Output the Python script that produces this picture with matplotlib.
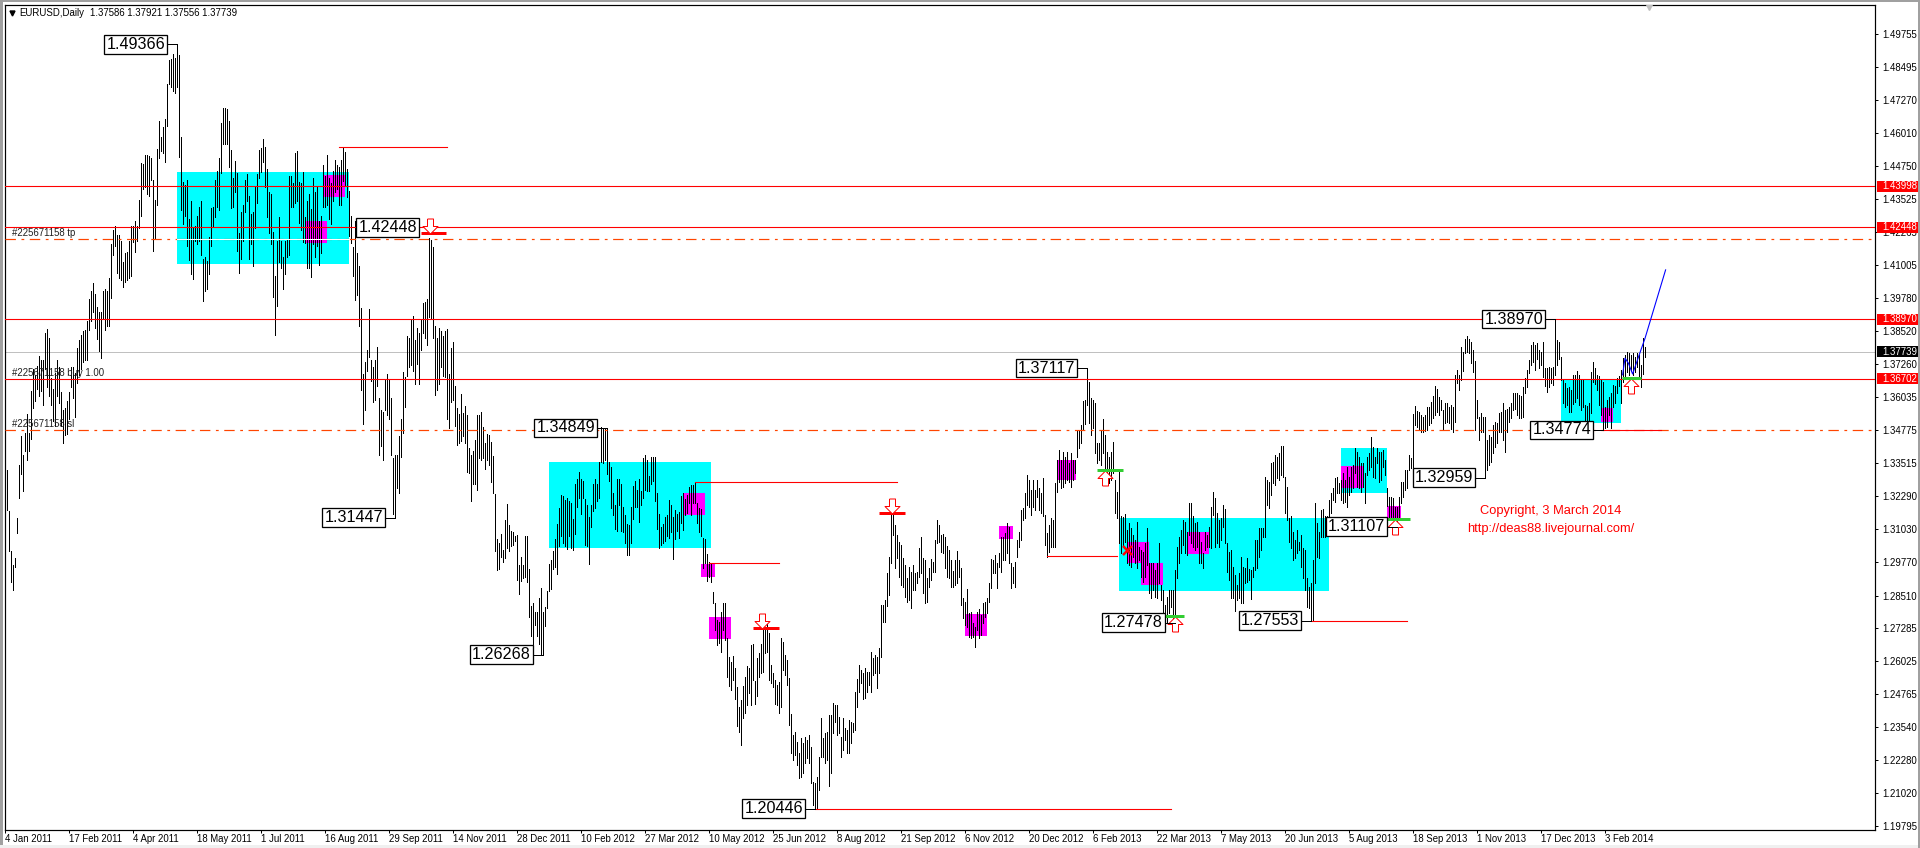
import numpy as np
import matplotlib
matplotlib.use("Agg")
import matplotlib.pyplot as plt
from matplotlib.patches import Rectangle

plt.rcParams['font.family'] = ['Liberation Sans', 'DejaVu Sans']
plt.rcParams['lines.scale_dashes'] = False

# --- DAILY BARS (in pips, one line per date label) ---
HIGHS = [
    13431,13327,13171,13018,12965,12992,13144,13343,13454,13383,13464,13539,13464,13624,13708,13687,13721,13759,13741,13741,13843,13859,13826,13674,13633,13694,13741,13714,13620,13552,13559,13586,
    13620,13714,13714,13694,13789,13818,13836,13853,13856,13890,13971,14005,14034,13991,13944,13924,13924,14005,14012,14005,14052,14180,14234,14248,14214,14214,14194,14113,14147,14151,14194,14248,
    14248,14268,14248,14349,14488,14484,14518,14518,14515,14505,14424,14349,14542,14646,14586,14624,14653,14788,14876,14880,14899,14883,14937,14896,14586,14417,14403,14424,14275,14343,14241,14248,
    14288,14322,14343,14126,14133,14116,14207,14318,14322,14424,14457,14507,14640,14694,14696,14691,14646,14538,14430,14494,14451,14221,14302,14329,14424,14444,14363,14295,14302,14397,14444,14538,
    14545,14579,14548,14464,14376,14370,14228,14059,14194,14282,14194,14133,14194,14201,14437,14437,14410,14525,14532,14417,14410,14453,14282,14343,14370,14315,14430,14376,14397,14268,14288,14478,
    14437,14518,14430,14410,14457,14498,14480,14471,14497,14546,14529,14464,14380,14286,14171,14269,14148,14099,13937,13689,13735,13780,13936,13741,13715,13741,13793,13598,13552,13546,13669,13689,
    13669,13598,13370,13383,13383,13454,13520,13695,13676,13832,13826,13897,13910,13819,13865,13845,13897,13956,13963,13973,14204,14197,14168,13871,13826,13865,13852,13832,13852,13861,13689,13787,
    13809,13643,13559,13539,13613,13543,13569,13533,13409,13383,13396,13441,13533,13533,13546,13487,13428,13461,13457,13431,13379,13235,13064,13051,13083,13024,13135,13196,13118,13096,13090,13077,
    13081,12966,12998,12966,13077,13077,12953,12813,12822,12790,12790,12842,12878,12790,12809,12868,12970,12985,13018,13064,13122,13181,13233,13226,13213,13220,13207,13200,13142,13272,13292,13318,
    13292,13285,13217,13194,13148,13194,13272,13292,13272,13357,13487,13480,13480,13483,13357,13337,13239,13194,13292,13292,13272,13187,13155,13122,13116,13187,13265,13285,13252,13292,13246,13370,
    13383,13363,13304,13376,13376,13376,13239,13161,13109,13122,13148,13155,13213,13194,13148,13174,13161,13168,13227,13238,13215,13231,13263,13269,13269,13282,13200,13181,13177,13067,13064,13008,
    12979,12973,12866,12821,12758,12752,12790,12821,12821,12689,12617,12601,12622,12576,12506,12431,12456,12509,12541,12584,12576,12664,12668,12529,12613,12632,12668,12733,12733,12743,12708,12588,
    12557,12531,12512,12525,12689,12676,12626,12607,12538,12403,12323,12336,12298,12254,12311,12292,12317,12305,12323,12279,12147,12141,12166,12241,12386,12311,12330,12336,12399,12399,12443,12437,
    12437,12393,12317,12386,12349,12342,12380,12374,12370,12487,12534,12588,12569,12557,12576,12563,12563,12639,12613,12626,12620,12651,12815,12815,12834,12935,12998,13156,13156,13118,13080,13055,
    13042,12992,12967,12916,12960,12941,12967,12935,12941,13030,13074,12992,12985,12916,12954,12988,12979,13061,13137,13118,13080,13084,13074,13038,13023,12985,12945,12985,13021,12985,12954,12840,
    12828,12876,12784,12790,12746,12733,12790,12799,12777,12821,12828,12840,12897,12988,12985,13004,12973,13011,13074,13074,13086,13124,13112,12973,12960,12979,13061,13092,13175,13181,13238,13307,
    13288,13250,13288,13250,13288,13257,13238,13294,13156,13089,13118,13143,13137,13276,13364,13402,13364,13395,13376,13395,13351,13389,13364,13364,13477,13477,13496,13588,13591,13711,13660,13597,
    13591,13578,13427,13427,13477,13519,13458,13395,13376,13395,13433,13288,13244,13326,13150,13147,13160,13099,13124,13105,13080,13061,13131,13036,13023,13017,13048,13105,12973,12973,12973,12948,
    12973,13048,12891,12872,12815,12847,12872,12872,12872,12948,13036,13074,13099,13137,13131,13093,13200,13200,13150,13124,13131,13093,13055,13011,13093,13080,13112,13187,13244,13219,13162,13137,
    13143,13194,13177,13048,13017,13023,12960,12929,12891,12935,12996,12960,12954,12992,12950,12948,12960,13061,13061,13105,13105,13105,13301,13288,13282,13351,13358,13383,13376,13392,13417,13417,
    13301,13263,13143,13152,13093,13061,13099,13055,13080,13030,13023,12916,12885,12897,12986,13200,13124,13093,13175,13177,13150,13150,13213,13238,13257,13294,13298,13276,13288,13313,13288,13338,
    13301,13338,13345,13408,13395,13376,13351,13351,13313,13376,13389,13452,13414,13376,13408,13395,13395,13402,13364,13257,13225,13225,13219,13187,13187,13225,13282,13282,13326,13326,13383,13370,
    13538,13568,13550,13547,13534,13528,13534,13563,13565,13584,13606,13644,13631,13601,13591,13553,13578,13578,13565,13572,13565,13685,13704,13685,13790,13774,13820,13833,13820,13811,13780,13739,
    13591,13528,13543,13528,13528,13439,13458,13452,13496,13509,13502,13540,13547,13578,13553,13555,13563,13578,13616,13619,13616,13610,13606,13641,13673,13704,13742,13799,13811,13799,13805,13780,
    13774,13811,13710,13710,13717,13710,13717,13893,13818,13811,13755,13666,13654,13635,13641,13628,13685,13685,13702,13685,13666,13666,13572,13568,13578,13698,13736,13710,13685,13682,13666,13660,
    13565,13591,13603,13616,13647,13644,13673,13682,13704,13748,13761,13774,13770,13761,13767,13755,13767,13761,13723,13824,13792,
]
LOWS = [
    13290,13175,13018,12904,12873,12958,13086,13221,13312,13248,13397,13363,13397,13444,13559,13586,13633,13606,13626,13572,13708,13640,13606,13572,13512,13491,13606,13579,13491,13427,13458,13462,
    13518,13640,13599,13525,13654,13687,13708,13735,13741,13741,13856,13890,13924,13863,13822,13775,13751,13897,13856,13870,13870,13978,14140,14174,14072,14052,14045,14018,14039,14045,14052,14059,
    14187,14151,14194,14241,14288,14390,14397,14370,14363,14424,14156,14201,14329,14505,14532,14525,14491,14629,14788,14775,14761,14751,14775,14511,14309,14255,14288,14174,14120,14066,14048,14194,
    14180,14194,14140,13967,14002,14012,14066,14174,14248,14282,14322,14309,14451,14559,14559,14561,14471,14318,14322,14376,14153,14070,14126,14194,14302,14343,14126,14180,14099,14241,14336,14430,
    14453,14491,14397,14282,14221,14180,13980,13836,13948,14113,14089,14012,14066,14133,14140,14322,14322,14336,14343,14261,14234,14187,14183,14089,14089,14056,14180,14133,14174,14103,14147,14322,
    14322,14329,14275,14255,14343,14376,14390,14329,14327,14419,14399,14360,14210,14184,14060,13969,13989,13871,13630,13500,13552,13702,13754,13663,13585,13591,13643,13383,13415,13363,13552,13533,
    13520,13383,13161,13144,13259,13239,13376,13467,13565,13682,13715,13722,13702,13650,13728,13650,13780,13845,13826,13800,13904,13897,13826,13611,13630,13650,13715,13682,13676,13520,13483,13585,
    13589,13493,13422,13428,13435,13454,13428,13318,13314,13209,13272,13272,13252,13370,13363,13370,13331,13363,13344,13279,13239,13018,12946,12953,12996,12979,12992,13031,13018,13037,13044,13057,
    12910,12855,12907,12918,12920,12901,12770,12699,12666,12738,12699,12666,12627,12627,12735,12803,12868,12875,12953,12959,12931,13037,13077,13050,13037,13027,13077,13031,13024,13083,13187,13220,
    13161,13220,13044,13037,12972,13109,13170,13181,13207,13220,13357,13353,13363,13311,13285,13183,13155,13102,13096,13194,13096,13090,13050,13005,13005,13050,13142,13187,13187,13131,13194,13220,
    13252,13246,13246,13272,13285,13209,13102,13031,13044,13050,13057,13077,13070,13090,12988,13063,13096,13070,13124,13099,13155,13162,13200,13156,13200,13200,13124,13093,13076,12954,12973,12907,
    12922,12903,12821,12721,12664,12670,12639,12721,12683,12544,12509,12494,12531,12458,12357,12336,12286,12386,12405,12437,12481,12437,12531,12441,12471,12544,12557,12563,12632,12639,12531,12519,
    12506,12441,12437,12405,12431,12569,12550,12512,12361,12254,12229,12248,12210,12159,12163,12178,12216,12235,12216,12141,12059,12046,12046,12115,12241,12241,12216,12229,12130,12178,12330,12374,
    12323,12330,12239,12267,12304,12254,12256,12292,12336,12342,12431,12487,12519,12458,12462,12487,12512,12487,12550,12557,12500,12557,12620,12752,12752,12811,12853,12973,13080,12954,12992,12920,
    12891,12885,12847,12828,12834,12803,12872,12872,12897,12922,12935,12859,12824,12828,12885,12910,12941,12941,13048,13055,13017,13011,12954,12922,12916,12885,12885,12891,12897,12922,12815,12765,
    12739,12733,12695,12689,12695,12657,12721,12689,12702,12746,12771,12784,12828,12878,12935,12937,12878,12960,12941,12985,12985,13013,12973,12878,12897,12885,12995,13036,13061,13137,13143,13194,
    13187,13156,13187,13175,13225,13175,13162,13150,13042,12998,13017,13036,13036,13036,13244,13282,13257,13263,13276,13288,13282,13263,13288,13313,13376,13408,13427,13477,13500,13572,13503,13458,
    13484,13389,13351,13364,13345,13389,13313,13282,13276,13288,13313,13162,13143,13048,13011,13042,13055,12973,12967,12960,12998,12973,12954,12986,12922,12904,12922,12967,12859,12841,12872,12847,
    12841,12897,12834,12777,12746,12746,12784,12809,12765,12748,12916,12973,13011,13042,13011,13004,13080,13048,13036,13023,13036,12973,12973,12954,13023,13036,13036,13030,13156,13036,13048,13036,
    13061,13112,13048,12941,12910,12841,12841,12794,12834,12841,12822,12822,12897,12904,12910,12837,12922,12948,12954,12998,13023,13074,13074,13194,13181,13231,13276,13269,13294,13288,13307,13301,
    13162,13137,13055,13030,12986,12992,13011,13023,12960,12916,12872,12809,12803,12755,12759,12897,12998,12992,13074,13074,13074,13112,13150,13162,13213,13206,13238,13238,13212,13200,13206,13187,
    13231,13244,13257,13313,13263,13257,13244,13263,13202,13307,13326,13338,13301,13294,13351,13282,13288,13338,13307,13190,13149,13137,13137,13137,13111,13143,13200,13225,13250,13257,13326,13332,
    13338,13496,13487,13477,13471,13471,13475,13477,13496,13502,13521,13534,13547,13534,13553,13480,13502,13509,13502,13480,13471,13509,13654,13630,13666,13700,13767,13774,13767,13729,13698,13477,
    13521,13439,13471,13471,13296,13326,13345,13357,13389,13414,13427,13471,13471,13439,13395,13471,13509,13521,13553,13555,13534,13521,13521,13528,13616,13639,13692,13723,13736,13704,13745,13711,
    13723,13679,13644,13622,13641,13654,13647,13685,13723,13745,13666,13578,13565,13572,13547,13547,13576,13584,13597,13572,13553,13565,13505,13484,13509,13540,13660,13651,13628,13572,13534,13477,
    13484,13490,13534,13484,13565,13581,13619,13644,13578,13660,13682,13698,13685,13702,13685,13698,13717,13676,13639,13689,13755,
]

# --- AXIS LABELS ---
X_TICK_STEP = 32
X_LABELS = ['4 Jan 2011', '17 Feb 2011', '4 Apr 2011', '18 May 2011', '1 Jul 2011', '16 Aug 2011',
            '29 Sep 2011', '14 Nov 2011', '28 Dec 2011', '10 Feb 2012', '27 Mar 2012', '10 May 2012',
            '25 Jun 2012', '8 Aug 2012', '21 Sep 2012', '6 Nov 2012', '20 Dec 2012', '6 Feb 2013',
            '22 Mar 2013', '7 May 2013', '20 Jun 2013', '5 Aug 2013', '18 Sep 2013', '1 Nov 2013',
            '17 Dec 2013', '3 Feb 2014']
Y_TICKS = ['1.49755', '1.48495', '1.47270', '1.46010', '1.44750', '1.43525', '1.42265', '1.41005',
           '1.39780', '1.38520', '1.37260', '1.36035', '1.34775', '1.33515', '1.32290', '1.31030',
           '1.29770', '1.28510', '1.27285', '1.26025', '1.24765', '1.23540', '1.22280', '1.21020',
           '1.19795']

# --- LEVELS AND OBJECTS (bar index, price) ---
RED_LEVELS = ['1.43998', '1.42448', '1.38970', '1.36702']
LAST_PRICE = '1.37739'
TP_LEVEL = 1.4200
SL_LEVEL = 1.34775
ORDER_TEXTS = [('#225671158 tp', 1.4200), ('#225671158 buy 1.00', 1.36702), ('#225671158 sl', 1.34775)]

# start bar, end bar, top, bottom
CYAN_ZONES = [(86, 172, 1.4454, 1.4106), (272, 353, 1.3356, 1.3031), (557, 662, 1.3146, 1.2869),
              (668, 691, 1.3411, 1.3239), (778, 808, 1.3671, 1.3504)]
MAGENTA_ZONES = [(159, 170, 1.4442, 1.4359), (150, 161, 1.4268, 1.4185), (339, 350, 1.3239, 1.3156),
                 (348, 355, 1.2972, 1.2921), (352, 363, 1.2770, 1.2687), (480, 491, 1.2781, 1.2698),
                 (497, 504, 1.3114, 1.3065), (526, 535.5, 1.3364, 1.3288), (561, 572, 1.3054, 1.2974),
                 (568, 579, 1.2974, 1.2891), (591, 602, 1.3092, 1.3008), (668, 679, 1.3341, 1.3258),
                 (691, 698, 1.3190, 1.3141), (798, 804, 1.3561, 1.3508)]

# start bar, end bar, price
RED_SEGMENTS = [(167, 221, 1.4548), (345, 446, 1.3282), (352, 387, 1.2973), (405, 583, 1.20446),
                (521, 556, 1.3001), (653, 701, 1.27553), (799, 828, 1.34774)]

# start bar, end bar, price, arrow bar
SELL_STOPS = [(208, 220.5, 1.4222, 212.5), (374, 387, 1.2728, 378.5), (437, 450, 1.3163, 443.5)]
BUY_STOPS = [(546, 559, 1.3326, 550), (576.5, 589.5, 1.2774, 585), (690, 702.5, 1.3141, 695),
             (808.5, 818, 1.3674, 813)]
CLOSE_X = (561, 1.3023)

# text, bar the leader runs to, draw the leader or not
SWING_LABELS = [('1.49366', 86, True), ('1.42448', 212, False), ('1.31447', 195, True),
                ('1.34849', 301, True), ('1.26268', 269, True), ('1.20446', 405, True),
                ('1.37117', 541, True), ('1.27478', 585, True), ('1.27553', 653, True),
                ('1.31107', 696, True), ('1.32959', 740, True), ('1.38970', 775, True),
                ('1.34774', 799, True)]

BLUE_BARS = [808.8, 810, 811.7, 813.8, 816.8, 820, 830.3]
BLUE_PRICES = [1.3686, 1.3749, 1.3730, 1.3689, 1.3755, 1.3824, 1.4083]

ARROW_DOWN = [(-0.4, 1), (0.4, 1), (0.4, 0), (1, 0), (0, -1), (-1, 0), (-0.4, 0), (-0.4, 1)]
ARROW_UP = [(x, -y) for x, y in ARROW_DOWN]
PX = 0.72  # one pixel in points at 100 dpi
ORANGE = '#FF4500'
SMALL = 6.9

# --- FIGURE ---
fig = plt.figure(figsize=(19.2, 8.48), dpi=100, facecolor='white')
ax = fig.add_axes([4.5 / 1920, 1 - 829.5 / 848, (1875 - 4.5) / 1920, (829.5 - 4.5) / 848])
ax.set_xlim(-0.25, 935)
ax.set_ylim(1.19657, 1.50871)

for left, bottom, w, h, col in [(0, 0, 3, 848, '#A0A0A0'), (0, 846, 1920, 2, '#A0A0A0'),
                                (0, 0, 1920, 3, '#F0F0F0'), (1918, 0, 2, 848, '#A0A0A0')]:
    fig.add_artist(Rectangle((left / 1920, bottom / 848), w / 1920, h / 848, transform=fig.transFigure,
                             facecolor=col, edgecolor='none'))

for start, end, top, bottom in CYAN_ZONES:
    ax.add_patch(Rectangle((start, bottom), end - start, top - bottom, facecolor='#00FFFF', edgecolor='none', zorder=1))
for start, end, top, bottom in MAGENTA_ZONES:
    ax.add_patch(Rectangle((start, bottom), end - start, top - bottom, facecolor='#FF00FF', edgecolor='none', zorder=1.5))

# bars
highs = np.array(HIGHS) / 10000
lows = np.array(LOWS) / 10000
bars = np.arange(len(highs))
vl = ax.vlines(bars, lows, highs, color='black', linewidth=PX, antialiased=False, zorder=3)
vl.set_snap(True)

# horizontal levels
for lev in RED_LEVELS:
    ax.axhline(float(lev), color='#FF0000', linewidth=1.1 * PX, zorder=4)
ax.axhline(float(LAST_PRICE), color='#C0C0C0', linewidth=PX, zorder=2)
dash = (0, (7.5, 4, 2, 4))
ax.axhline(TP_LEVEL, color=ORANGE, linewidth=1.2 * PX, linestyle=dash, zorder=4)
ax.axhline(SL_LEVEL, color=ORANGE, linewidth=1.2 * PX, linestyle=dash, zorder=4)
# the dashed line turns white where it crosses the first cyan zone
ax.plot([CYAN_ZONES[0][0], CYAN_ZONES[0][1]], [TP_LEVEL, TP_LEVEL], color='white', linewidth=PX, zorder=4.1)

for start, end, price in RED_SEGMENTS:
    ax.plot([start, end], [price, price], color='#FF0000', linewidth=1.1 * PX, zorder=4)

for start, end, price, arrow_bar in SELL_STOPS:
    ax.plot([start, end], [price, price], color='#FF0000', linewidth=3 * PX, solid_capstyle='butt', zorder=5)
    ax.plot(arrow_bar, price + 0.0028, marker=ARROW_DOWN, markersize=15 * PX, mfc='white', mec='#FF0000', mew=PX, zorder=6)
for start, end, price, arrow_bar in BUY_STOPS:
    ax.plot([start, end], [price, price], color='#32CD32', linewidth=3 * PX, solid_capstyle='butt', zorder=5)
    ax.plot(arrow_bar, price - 0.0032, marker=ARROW_UP, markersize=15 * PX, mfc='white', mec='#FF0000', mew=PX, zorder=4.5)
ax.plot(CLOSE_X[0], CLOSE_X[1], marker='x', color='#FF0000', markersize=9 * PX, mew=2.5 * PX, zorder=6)

ax.plot(BLUE_BARS, BLUE_PRICES, color='#0000FF', linewidth=1.1 * PX, zorder=6)

# swing labels with leader line
for text, bar, leader in SWING_LABELS:
    price = float(text)
    if leader:
        ax.plot([bar - 5, bar], [price, price], color='black', linewidth=PX, zorder=6)
    ax.annotate(text, xy=(bar, price), xytext=(-12, 0), textcoords='offset pixels', ha='right', va='center',
                fontsize=11.6, color='black', zorder=8,
                bbox=dict(boxstyle='square,pad=0.12', facecolor='white', edgecolor='black', linewidth=1.3 * PX))

for text, price in ORDER_TEXTS:
    ax.annotate(text, xy=(0, price), xycoords=ax.get_yaxis_transform(), xytext=(8, 1), textcoords='offset pixels',
                fontsize=SMALL, color='#202020', va='bottom', ha='left', zorder=7)

ax.text(773, 1.3172, 'Copyright, 3 March 2014', color='#FF0000', fontsize=9.3, ha='center', va='center', zorder=7)
ax.text(773, 1.3103, 'http://deas88.livejournal.com/', color='#FF0000', fontsize=9.3, ha='center', va='center', zorder=7)

# header
ax.annotate('EURUSD,Daily', xy=(0, 1), xycoords='axes fraction', xytext=(15, -8), textcoords='offset pixels',
            fontsize=SMALL, va='center', ha='left', color='black')
ax.annotate('1.37586 1.37921 1.37556 1.37739', xy=(0, 1), xycoords='axes fraction', xytext=(85, -8),
            textcoords='offset pixels', fontsize=SMALL, va='center', ha='left', color='black')
ax.plot([0.0038], [0.9898], marker='v', color='black', markersize=5 * PX, transform=ax.transAxes, zorder=7)
ax.plot(822, 0.997, marker='v', color='#C0C0C0', markersize=6 * PX, transform=ax.get_xaxis_transform(), zorder=7)

# axes
ax.yaxis.tick_right()
ax.set_yticks([float(v) for v in Y_TICKS], Y_TICKS)
ax.set_xticks(np.arange(len(X_LABELS)) * X_TICK_STEP, X_LABELS)
for lab in ax.get_xticklabels():
    lab.set_ha('left')
ax.tick_params(axis='y', length=2.2, width=PX, pad=3.2, labelsize=SMALL)
ax.tick_params(axis='x', length=2.2, width=PX, pad=1.2, labelsize=SMALL)
for side in ax.spines.values():
    side.set_linewidth(1.2 * PX)

# price tags over the right axis
tag_h = 11 / 2643
for lev in RED_LEVELS + [LAST_PRICE]:
    col = 'black' if lev == LAST_PRICE else '#FF0000'
    ax.add_patch(Rectangle((1.001, float(lev) - tag_h / 2), 0.022, tag_h, transform=ax.get_yaxis_transform(),
                           facecolor=col, edgecolor='none', clip_on=False, zorder=9))
    ax.annotate(lev, xy=(1, float(lev)), xycoords=ax.get_yaxis_transform(), xytext=(7, 0), textcoords='offset pixels',
                fontsize=SMALL, color='white', va='center', ha='left', zorder=10)

fig.savefig('out.png', dpi=100)
